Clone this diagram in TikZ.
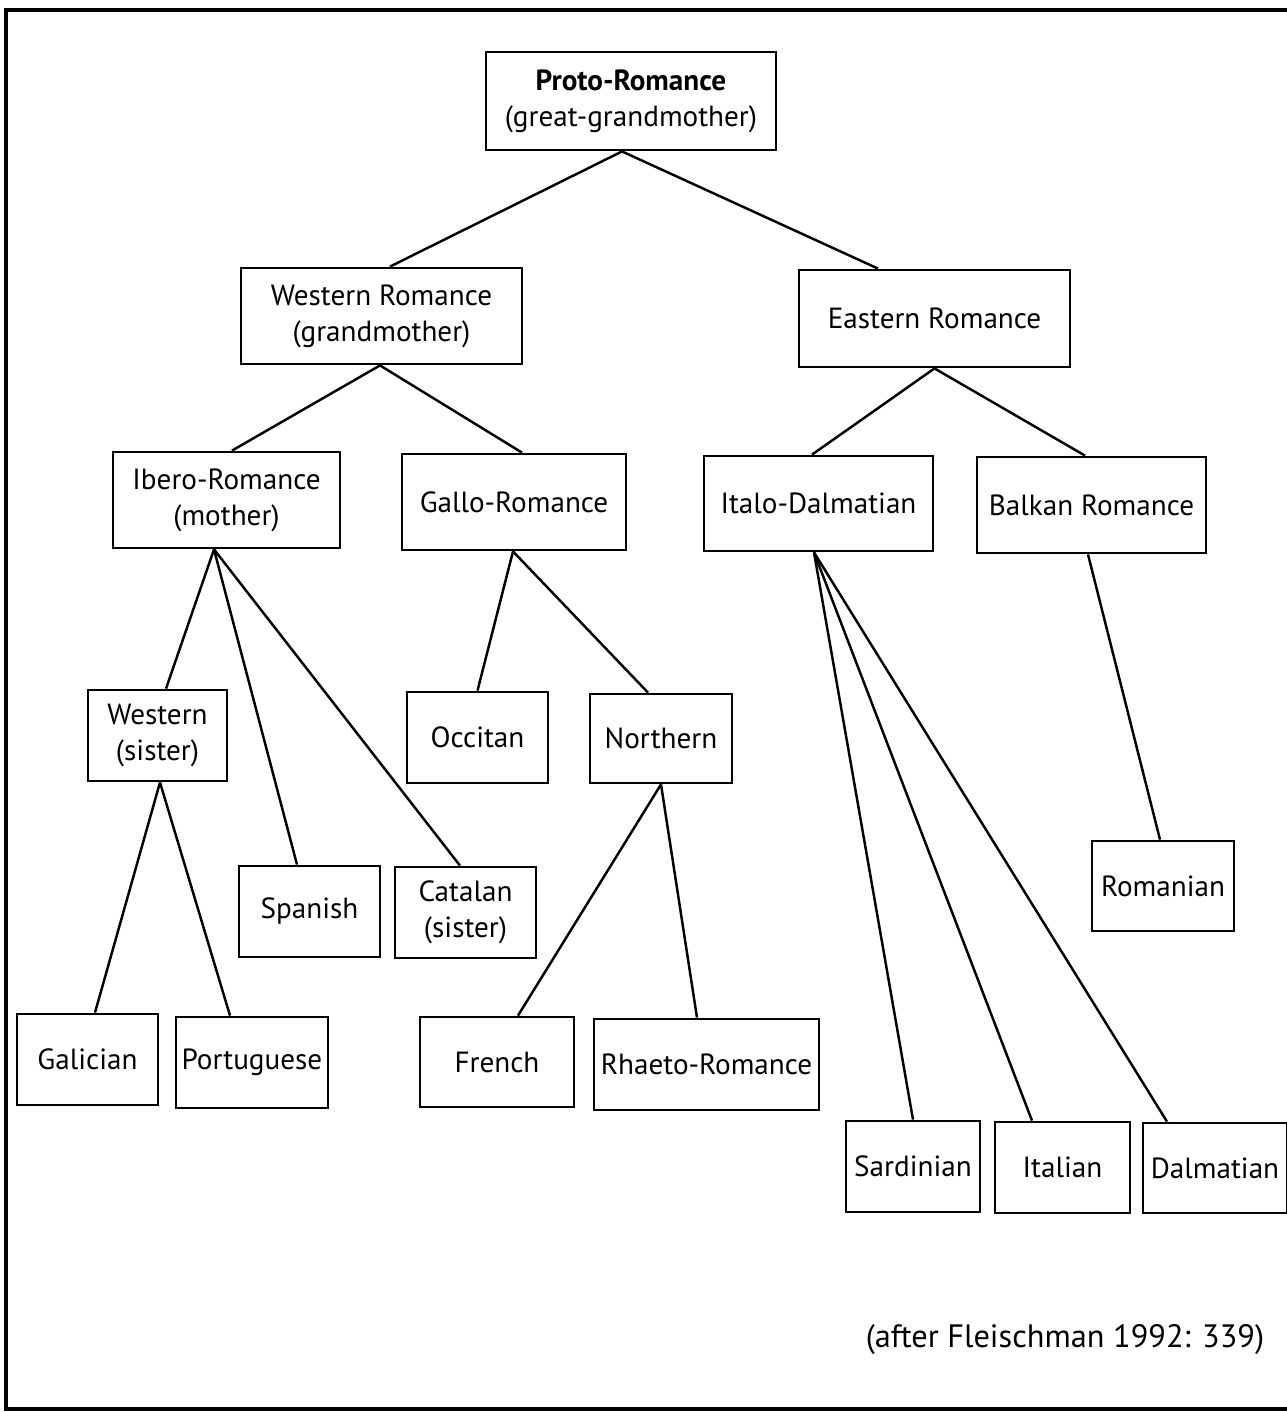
\documentclass[tikz,border=0pt]{standalone}
\usepackage{fontspec}
\setmainfont{PT Sans}
\begin{document}
\begin{tikzpicture}[x=0.1mm, y=-0.1mm,
    lang/.style={draw, line width=0.8pt, align=center, inner sep=0pt,
        font=\fontsize{8.3}{10.3}\selectfont},
    branch/.style={line width=0.7pt}]
    % размеры картинки
    \useasboundingbox (0,0) rectangle (1287,1412);

    % рамка
    \draw[line width=0.9pt] (1287,10) -- (6,10) -- (6,1409) -- (1287,1409);

    % корень и первый уровень
    \node[lang, minimum width=29mm, minimum height=9.8mm] (proto) at (631,101)
        {\textbf{Proto-Romance}\\(great-grandmother)};
    \node[lang, minimum width=28.1mm, minimum height=9.6mm] (wrom) at (381.5,316)
        {Western Romance\\(grandmother)};
    \node[lang, minimum width=27.1mm, minimum height=9.7mm] (erom) at (934.5,318.5)
        {Eastern Romance};

    % второй уровень
    \node[lang, minimum width=22.7mm, minimum height=9.6mm] (ibero) at (226.5,500)
        {Ibero-Romance\\(mother)};
    \node[lang, minimum width=22.4mm, minimum height=9.6mm] (gallo) at (514,502)
        {Gallo-Romance};
    \node[lang, minimum width=22.9mm, minimum height=9.5mm] (italo) at (818.5,503.5)
        {Italo-Dalmatian};
    \node[lang, minimum width=22.9mm, minimum height=9.6mm] (balkan) at (1091.5,505)
        {Balkan Romance};

    % третий уровень
    \node[lang, minimum width=13.9mm, minimum height=9.1mm] (wsis) at (157.5,735.5)
        {Western\\(sister)};
    \node[lang, minimum width=14.1mm, minimum height=9.1mm] (occ) at (477.5,737.5)
        {Occitan};
    \node[lang, minimum width=14.2mm, minimum height=8.9mm] (north) at (661,738.5)
        {Northern};
    \node[lang, minimum width=14.1mm, minimum height=9.1mm] (span) at (309.5,911.5)
        {Spanish};
    \node[lang, minimum width=14.1mm, minimum height=9.1mm] (cat) at (465.5,912.5)
        {Catalan\\(sister)};
    \node[lang, minimum width=14.2mm, minimum height=9mm] (roman) at (1163,886)
        {Romanian};

    % листья
    \node[lang, minimum width=14.1mm, minimum height=9.1mm] (gal) at (87.5,1059.5)
        {Galician};
    \node[lang, minimum width=15.2mm, minimum height=9.1mm] (port) at (252,1062.5)
        {Portuguese};
    \node[lang, minimum width=15.4mm, minimum height=9mm] (french) at (497,1062)
        {French};
    \node[lang, minimum width=22.5mm, minimum height=9.1mm] (rhaeto) at (706.5,1064.5)
        {Rhaeto-Romance};
    \node[lang, minimum width=13.4mm, minimum height=9.1mm] (sard) at (913,1166.5)
        {Sardinian};
    \node[lang, minimum width=13.5mm, minimum height=9.1mm] (ital) at (1062.5,1167.5)
        {Italian};
    \node[lang, minimum width=14.4mm, minimum height=9mm] (dalm) at (1215,1168)
        {Dalmatian};

    % ветви
    \draw[branch] ([xshift=-0.9mm]proto.south) -- ([xshift=0.85mm]wrom.north);
    \draw[branch] ([xshift=-0.9mm]proto.south) -- ([xshift=-5.65mm]erom.north);
    \draw[branch] ([xshift=-0.15mm]wrom.south) -- ([xshift=0.55mm]ibero.north);
    \draw[branch] ([xshift=-0.15mm]wrom.south) -- ([xshift=0.8mm]gallo.north);
    \draw[branch] (erom.south) -- ([xshift=-0.65mm]italo.north);
    \draw[branch] (erom.south) -- ([xshift=-0.65mm]balkan.north);
    \draw[branch] ([xshift=-1.25mm]ibero.south) -- ([xshift=0.85mm]wsis.north);
    \draw[branch] ([xshift=-1.25mm]ibero.south) -- ([xshift=-1.25mm]span.north);
    \draw[branch] ([xshift=-1.25mm]ibero.south) -- ([xshift=-0.55mm]cat.north);
    \draw[branch] ([xshift=-0.1mm]gallo.south) -- (occ.north);
    \draw[branch] ([xshift=-0.1mm]gallo.south) -- ([xshift=-1.3mm]north.north);
    \draw[branch] ([xshift=-0.45mm]italo.south) -- (sard.north);
    \draw[branch] ([xshift=-0.45mm]italo.south) -- ([xshift=-3.05mm]ital.north);
    \draw[branch] ([xshift=-0.45mm]italo.south) -- ([xshift=-4.8mm]dalm.north);
    \draw[branch] ([xshift=-0.35mm]balkan.south) -- ([xshift=-0.3mm]roman.north);
    \draw[branch] ([xshift=0.25mm]wsis.south) -- ([xshift=0.75mm]gal.north);
    \draw[branch] ([xshift=0.25mm]wsis.south) -- ([xshift=-2.2mm]port.north);
    \draw[branch] (north.south) -- ([xshift=2.1mm]french.north);
    \draw[branch] (north.south) -- ([xshift=-0.95mm]rhaeto.north);

    % источник
    \node[font=\fontsize{9.2}{11}\selectfont] (src) at (1065,1340)
        {(after Fleischman 1992: 339)};
\end{tikzpicture}
\end{document}
